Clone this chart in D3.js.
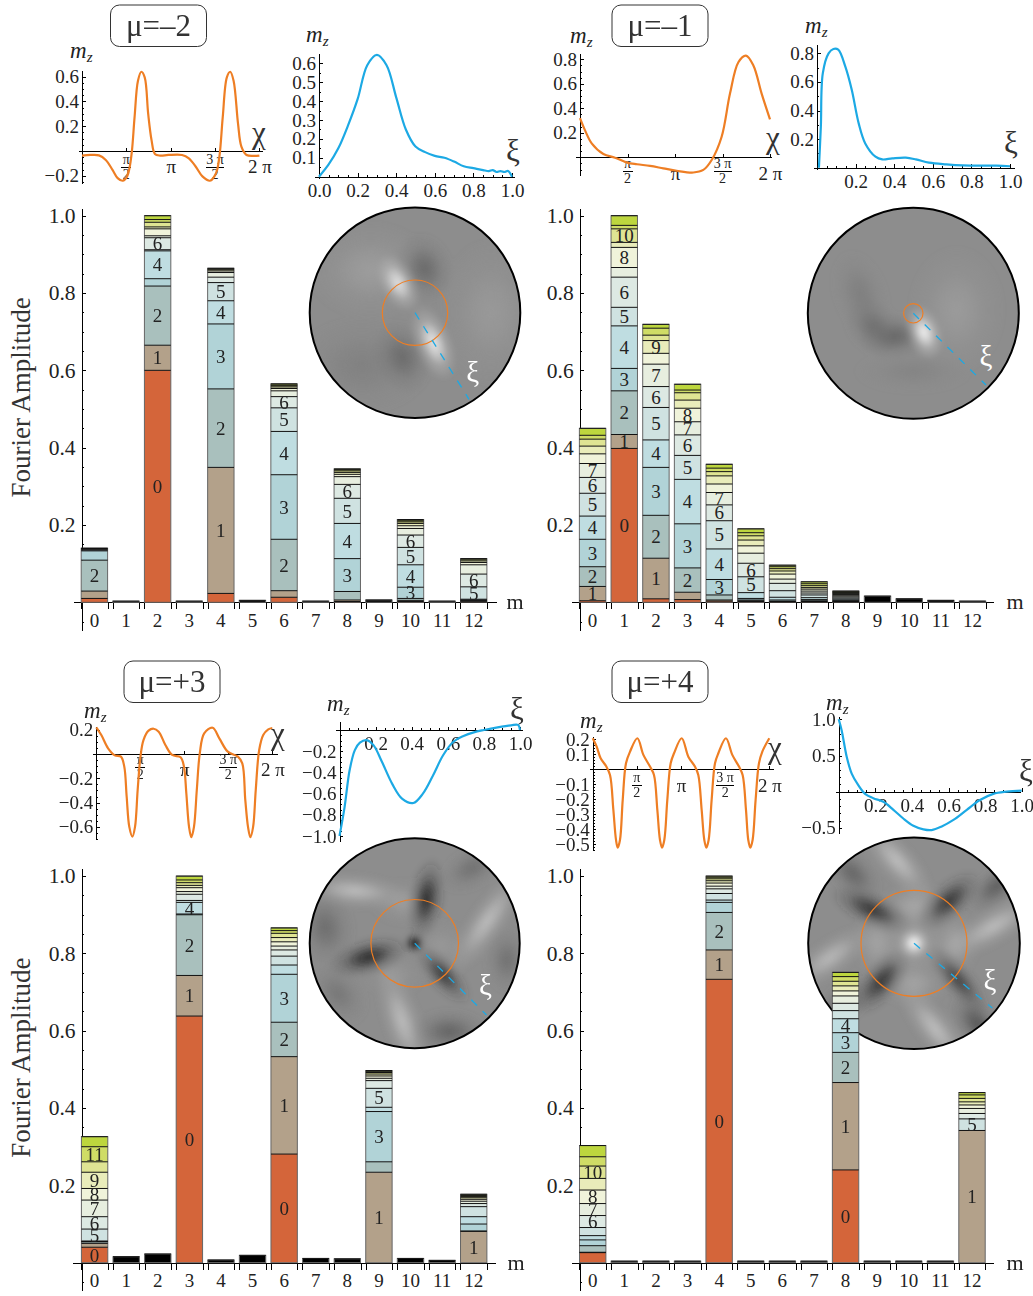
<!DOCTYPE html>
<html>
<head>
<meta charset="utf-8">
<title>Fourier amplitudes</title>
<script src="https://cdn.jsdelivr.net/npm/d3@7"></script>
<style>
    html, body { margin: 0; background: #fff; }
    svg { display: block; font-family: "Liberation Serif", serif; }
    text { fill: #222; }
    .axis path, .axis line { stroke: #000; stroke-width: 1; shape-rendering: crispEdges; }
    .axis text { font-family: "Liberation Serif", serif; fill: #222; }
</style>
</head>
<body>
<svg id="chart" width="1033" height="1296"></svg>
<script>
// harmonic index on the bar axis
const harmonics = d3.range(0, 13);

// radial colour for segments 0..12
const segmentColors = ['#D4653A', '#B3A18A', '#A9C0BD', '#B1D3D7', '#BFDDE1', '#CFE2E1', '#DDE9E3',
    '#E7EEDF', '#F0F3DA', '#E9ECBA', '#DFE493', '#CFDC66', '#BDD63E'];

// stacked amplitudes, one list per m, segment index = radial number; one entry = unresolved black bar
const stacksMinus2 = [
    [.010, .019, .080, .024, .002, .002, .002, .001],
    [.003],
    [.600, .065, .153, .019, .072, .003, .031, .005, .018, .005, .012, .007, .010],
    [.003],
    [.023, .326, .203, .168, .060, .047, .014, .012, .004, .003, .002, .002],
    [.005],
    [.013, .017, .133, .167, .112, .061, .029, .015, .006, .004, .003, .002, .003],
    [.003],
    [.002, .004, .022, .085, .091, .065, .036, .020, .006, .005, .004, .003, .002],
    [.006],
    [.002, .003, .005, .029, .058, .045, .032, .017, .007, .006, .004, .003, .003],
    [.003],
    [.001, .002, .002, .001, .002, .032, .033, .024, .006, .004, .003, .003]
];
const labelsMinus2 = [[2], [], [0, 1, 2, 4, 6], [], [1, 2, 3, 4, 5], [], [2, 3, 4, 5, 6], [], [3, 4, 5, 6], [], [3, 4, 5, 6], [], [5, 6]];

const stacksMinus1 = [
    [.004, .037, .051, .071, .060, .059, .041, .036, .025, .020, .018, .010, .018],
    [.398, .036, .113, .058, .110, .048, .078, .025, .052, .013, .035, .009, .025],
    [.009, .105, .111, .124, .071, .084, .054, .058, .028, .033, .014, .018, .010],
    [.007, .019, .063, .114, .115, .062, .053, .034, .035, .021, .019, .007, .015],
    [.003, .003, .013, .040, .079, .073, .041, .032, .022, .021, .011, .009, .010],
    [.002, .002, .002, .004, .015, .041, .035, .026, .019, .015, .011, .008, .010],
    [.001, .001, .001, .003, .007, .017, .019, .011, .013, .008, .006, .005, .004],
    [.001, .001, .002, .003, .005, .007, .005, .005, .005, .004, .005, .005, .005],
    [.001, .001, .001, .002, .003, .003, .003, .003, .003, .003, .002, .002, .002],
    [.016],
    [.009],
    [.005],
    [.003]
];
const labelsMinus1 = [[1, 2, 3, 4, 5, 6, 7], [0, 1, 2, 3, 4, 5, 6, 8, 10], [1, 2, 3, 4, 5, 6, 7, 9], [2, 3, 4, 5, 6, 7, 8], [3, 4, 5, 6, 7], [5, 6], [], [], [], [], [], [], []];

const stacksPlus3 = [
    [.040, .010, .004, .001, .001, .031, .032, .043, .030, .042, .027, .039, .026],
    [.0155],
    [.0225],
    [.638, .105, .157, .002, .030, .005, .016, .007, .010, .006, .007, .007, .010],
    [.007],
    [.019],
    [.281, .252, .089, .124, .024, .023, .016, .010, .011, .011, .011, .007, .007],
    [.011],
    [.010],
    [0, .234, .027, .130, .011, .049, .020, .006, .006, .005, .004, .003, .002],
    [.011],
    [.006],
    [0, .081, .001, .018, .019, .026, .008, .006, .005, .004, .003, .003, .003]
];
const labelsPlus3 = [[0, 5, 6, 7, 8, 9, 11], [], [], [0, 1, 2, 4], [], [], [0, 1, 2, 3], [], [], [1, 3, 5], [], [], [1]];

const stacksPlus4 = [
    [.026, .001, .017, .015, .011, .021, .031, .031, .035, .030, .032, .024, .029],
    [.004],
    [.004],
    [.004],
    [.733, .076, .097, .026, .006, .017, .012, .007, .008, .006, .005, .004, .003],
    [.004],
    [.004],
    [.004],
    [.240, .226, .078, .051, .036, .021, .019, .019, .013, .013, .012, .012, .011],
    [.004],
    [.004],
    [.004],
    [0, .342, 0, 0, 0, .030, .014, .013, .009, .008, .009, .009, .006]
];
const labelsPlus4 = [[6, 7, 8, 10], [], [], [], [0, 1, 2], [], [], [], [0, 1, 2, 3, 4], [], [], [], [1, 5]];

// angular profiles: chi in units of pi, m_z
const chiMinus2 = [0, .096, .191, .268, .344, .402, .459, .509, .535, .562, .593, .631, .669, .707, .746, .784, .822, .88, .975, 1.128, 1.205, 1.281, 1.358, 1.442, 1.511, 1.549, 1.587, 1.633, 1.671, 1.709, 1.759, 1.797, 1.855, 1.931, 2];
const mzChiMinus2 = [-.037, -.032, -.035, -.072, -.152, -.219, -.24, -.205, -.139, -.005, .275, .568, .64, .595, .301, .088, -.024, -.037, -.032, -.032, -.059, -.125, -.205, -.24, -.179, -.045, .275, .595, .64, .568, .221, .035, -.032, -.04, -.037];
const chiMinus1 = [0, .053, .123, .246, .368, .495, .6, .737, .877, 1.018, 1.193, 1.298, 1.386, 1.491, 1.579, 1.667, 1.747, 1.825, 1.912, 2];
const mzChiMinus1 = [.32, .22, .114, .027, -.003, -.043, -.057, -.07, -.09, -.11, -.124, -.103, -.022, .168, .52, .776, .83, .75, .52, .31];
const chiPlus3 = [0, .057, .134, .21, .28, .318, .345, .375, .41, .44, .47, .502, .536, .594, .651, .709, .785, .862, .958, .996, 1.023, 1.054, 1.08, 1.11, 1.142, 1.176, 1.226, 1.322, 1.398, 1.494, 1.609, 1.659, 1.693, 1.724, 1.751, 1.782, 1.812, 1.851, 1.897, 1.954, 2];
const mzChiPlus3 = [.22, .156, .047, -.011, -.022, -.104, -.35, -.6, -.68, -.6, -.296, -.022, .115, .192, .208, .184, .074, -.008, -.027, -.104, -.323, -.6, -.685, -.6, -.296, .005, .17, .216, .129, .019, -.022, -.077, -.378, -.6, -.685, -.6, -.296, .033, .156, .203, .214];
const chiPlus4 = [0, .045, .09, .151, .196, .234, .264, .283, .309, .34, .377, .423, .506, .574, .649, .694, .732, .762, .785, .811, .845, .883, .921, 1.008, 1.083, 1.158, 1.196, 1.234, 1.264, 1.287, 1.313, 1.347, 1.385, 1.423, 1.509, 1.581, 1.657, 1.698, 1.736, 1.762, 1.785, 1.811, 1.845, 1.883, 1.921, 2];
const mzChiPlus4 = [.207, .151, .073, .022, -.038, -.271, -.471, -.522, -.471, -.204, .04, .118, .207, .096, .018, -.038, -.271, -.471, -.522, -.471, -.204, .04, .107, .207, .084, .018, -.038, -.271, -.471, -.522, -.471, -.204, .04, .107, .207, .096, .018, -.038, -.271, -.471, -.522, -.471, -.204, .04, .118, .207];

// radial profiles: xi, m_z
const xiMinus2 = [0, .05, .1, .15, .2, .25, .3, .35, .4, .45, .5, .55, .6, .65, .7, .75, .8, .85, .88, .9, .92, .94, .96, .98, 1];
const mzXiMinus2 = [0, .065, .15, .27, .41, .59, .645, .59, .42, .25, .16, .13, .11, .10, .08, .055, .045, .035, .03, .035, .025, .03, .025, .03, 0];
const xiMinus1 = [.01, .02, .03, .06, .085, .11, .146, .18, .216, .25, .303, .338, .39, .46, .512, .58, .67, .756, .93, 1];
const mzXiMinus1 = [0, .29, .66, .8, .83, .825, .71, .545, .31, .17, .077, .058, .065, .07, .058, .035, .023, .016, .014, .01];
const xiPlus3 = [0, .028, .056, .085, .113, .15, .188, .235, .292, .348, .409, .461, .518, .574, .631, .687, .744, .8, .876, .951, .989, 1];
const mzXiPlus3 = [-1, -.73, -.38, -.19, -.12, -.095, -.143, -.30, -.508, -.65, -.689, -.603, -.429, -.238, -.111, -.057, -.022, 0, .025, .044, .048, 0];
const xiPlus4 = [0, .016, .044, .071, .107, .144, .189, .244, .299, .353, .408, .463, .508, .563, .627, .7, .772, .845, .918, 1];
const mzXiPlus4 = [1, .85, .48, .25, .09, -.03, -.09, -.14, -.25, -.37, -.47, -.52, -.53, -.48, -.39, -.25, -.115, -.03, 0, .015];

// tick labels
const ampTicks = [.2, .4, .6, .8, 1];
const chiTicks = [.5, 1, 1.5, 2];
const xiTicks = [.2, .4, .6, .8, 1];

// disc maps: x, y (in disc radii), long and short half axis, tilt in degrees, grey level
const spotsMinus2 = [
    [-.42, -.4, .6, .46, 0, 158], [.72, 0, .5, .7, 0, 154], [-.5, .5, .65, .46, 0, 128],
    [.09, -.42, .34, .27, 70, 104], [-.12, .42, .36, .27, 70, 106],
    [-.16, -.28, .3, .17, 62, 232], [.174, .285, .38, .18, 68, 238]
];
const spotsMinus1 = [
    [.41, -.03, .45, .6, 0, 156], [0, .55, .55, .2, 0, 132],
    [-.5, -.18, .42, .25, 72, 126], [-.38, .12, .3, .24, 45, 112], [-.17, .22, .36, .22, -5, 102],
    [.1, .18, .27, .17, 70, 250]
];
const spotsPlus3 = [
    [-.85, -.15, .38, .28, 80, 108], [.33, .84, .38, .22, 0, 98], [-.73, .48, .34, .24, 50, 118],
    [.88, .16, .32, .22, 90, 112], [.55, -.72, .34, .2, -30, 112],
    [-.09, -.39, .34, .22, 0, 158], [.25, .02, .3, .24, 0, 152], [-.2, .3, .3, .22, 0, 152],
    [-.57, -.5, .52, .17, 5, 190], [.69, -.21, .6, .18, -55, 190], [-.12, .74, .56, .19, 72, 190],
    [.11, -.42, .4, .18, 100, 38], [-.44, .13, .4, .18, -15, 38], [.27, .3, .36, .15, 48, 55],
    [0, 0, .11, .11, 0, 15]
];
const spotsPlus4 = [
    [.6, .76, .34, .2, 50, 84], [-.58, -.66, .34, .2, 45, 100], [.78, -.54, .34, .18, -40, 92], [-.67, .57, .32, .2, -40, 100],
    [0, -.35, .32, .24, 0, 168], [-.35, 0, .24, .32, 0, 165], [.38, 0, .24, .32, 0, 165], [0, .38, .32, .24, 0, 165],
    [-.16, -.78, .48, .18, 48, 192], [.75, -.16, .54, .18, -30, 190], [.2, .81, .52, .18, 52, 192], [-.8, .14, .48, .18, -35, 186],
    [-.4, -.32, .42, .17, 25, 48], [.33, -.4, .38, .18, -42, 50], [-.31, .36, .38, .18, -50, 48], [.42, .35, .42, .15, 50, 65],
    [0, 0, .3, .3, 0, 172], [0, 0, .14, .14, 0, 255]
];

const svg = d3.select('#chart');
const defs = svg.append('defs');
const orange = '#EE7E24';
const blue = '#1CA9E4';

const span = (scale, lo, hi) => scale.copy().domain([scale.invert(lo), scale.invert(hi)]).range([lo, hi]);
const fmt = v => v.toFixed(1).replace('-', '\u2212');

defs.append('filter').attr('id', 'soft')
    .attr('x', '-10%').attr('y', '-10%').attr('width', '120%').attr('height', '120%')
    .append('feGaussianBlur').attr('stdDeviation', 2.5);

function drawBars(p) {
    const g = svg.append('g');
    const y = d3.scaleLinear().domain([0, 1]).range([p.y0, p.y0 - 386.6]);
    const x = d3.scaleLinear().domain([0, 12]).range([p.x0, p.x12]);
    const band = d3.scaleBand().domain(harmonics).range([x(-.5), x(12.5)]).paddingInner(.165).paddingOuter(.0825);
    const edgeTicks = harmonics.flatMap(m => [m - .42, m + .42]);

    // horizontal axis with two ticks per bar, labels by band
    g.append('g').attr('class', 'axis')
        .attr('transform', `translate(0,${p.y0})`)
        .call(d3.axisBottom(span(x, p.axisLeft, p.axisRight)).tickValues(edgeTicks).tickSize(7).tickSizeOuter(0).tickFormat(''));
    g.append('g').attr('class', 'axis')
        .attr('transform', `translate(0,${p.y0})`)
        .call(d3.axisBottom(band).tickSize(0).tickPadding(11))
        .call(a => a.select('.domain').remove())
        .call(a => a.selectAll('text').style('font-size', '19px'));

    // vertical axis
    const yFull = span(y, p.y0 + 28, p.y0 - 394);
    g.append('g').attr('class', 'axis')
        .attr('transform', `translate(${p.axisX},0)`)
        .call(d3.axisLeft(yFull).tickValues(d3.range(-.05, 1.01, .05)).tickSize(-2).tickSizeOuter(0).tickFormat(''));
    g.append('g').attr('class', 'axis')
        .attr('transform', `translate(${p.axisX},0)`)
        .call(d3.axisLeft(yFull).tickValues(ampTicks).tickSize(-4).tickSizeOuter(0).tickPadding(6).tickFormat(fmt))
        .call(a => a.select('.domain').remove())
        .call(a => a.selectAll('text').style('font-size', '21.5px'));

    // stacks
    p.stacks.forEach((stack, m) => {
        const bar = g.append('g');
        const tops = d3.cumsum(stack);
        const segs = stack.map((v, i) => ({ v, i, top: tops[i], bottom: tops[i] - v })).filter(d => d.v > 0);
        const solid = stack.length === 1;

        bar.selectAll('rect.seg').data(segs).enter().append('rect')
            .attr('class', 'seg')
            .attr('x', band(m))
            .attr('width', band.bandwidth())
            .attr('y', d => y(d.top))
            .attr('height', d => y(d.bottom) - y(d.top))
            .attr('fill', d => solid ? '#000' : segmentColors[d.i]);
        bar.append('rect')
            .attr('x', band(m))
            .attr('width', band.bandwidth())
            .attr('y', y(tops[tops.length - 1]))
            .attr('height', y(0) - y(tops[tops.length - 1]))
            .attr('fill', 'none')
            .attr('stroke', '#666');
        bar.selectAll('line').data(segs).enter().append('line')
            .attr('x1', band(m))
            .attr('x2', band(m) + band.bandwidth())
            .attr('y1', d => y(d.top))
            .attr('y2', d => y(d.top))
            .attr('stroke', '#111');
        bar.selectAll('text').data(segs.filter(d => p.labels[m].includes(d.i))).enter().append('text')
            .attr('x', band(m) + band.bandwidth() / 2)
            .attr('y', d => y((d.top + d.bottom) / 2))
            .attr('dy', '.35em')
            .attr('text-anchor', 'middle')
            .style('font-size', '19px')
            .text(d => d.i);
    });

    g.append('text')
        .attr('x', p.mX)
        .attr('y', p.y0 + 7)
        .attr('text-anchor', 'middle')
        .style('font-size', '22px')
        .text('m');

    if (p.title) {
        g.append('text')
            .attr('transform', `translate(30,${p.y0 - 205})rotate(-90)`)
            .attr('text-anchor', 'middle')
            .style('font-size', '27px')
            .style('fill', '#333')
            .text('Fourier Amplitude');
    }
}

function mzLabel(g, x, y) {
    const t = g.append('text')
        .attr('x', x)
        .attr('y', y)
        .style('font-size', '23px')
        .style('font-style', 'italic');
    t.append('tspan').text('m');
    t.append('tspan').attr('dy', 4).style('font-size', '15px').text('z');
}

function drawInset(c) {
    const g = svg.append('g');
    const x = d3.scaleLinear().domain(c.xDomain).range(c.xRange);
    const y = d3.scaleLinear().domain(c.yDomain).range(c.yRange);
    const line = d3.line().x(d => x(d[0])).y(d => y(d[1])).curve(d3.curveCatmullRom.alpha(.5));

    // y axis with minor and major ticks
    const yFull = span(y, c.yBottom, c.yTop);
    g.append('g').attr('class', 'axis')
        .attr('transform', `translate(${x(0)},0)`)
        .call(d3.axisLeft(yFull).tickValues(c.yMinor).tickSize(-2).tickSizeOuter(0).tickFormat(''));
    g.append('g').attr('class', 'axis')
        .attr('transform', `translate(${x(0)},0)`)
        .call(d3.axisLeft(yFull).tickValues(c.yTicks).tickSize(-3.5).tickSizeOuter(0).tickPadding(3).tickFormat(fmt))
        .call(a => a.select('.domain').remove())
        .call(a => a.selectAll('text').style('font-size', '19px'));

    // x axis on the zero line
    const xFull = span(x, c.xLeft, c.xRight);
    const xAxis = g.append('g').attr('class', 'axis').attr('transform', `translate(0,${y(0)})`);
    if (c.kind === 'chi') {
        xAxis.call(d3.axisBottom(xFull).tickValues(chiTicks).tickSize(-3.5).tickSizeOuter(0).tickPadding(9)
            .tickFormat(v => v === 1 ? '\u03C0' : v === 2 ? '2 \u03C0' : ''));
        xAxis.selectAll('text').style('font-size', '19px');
        const frac = xAxis.selectAll('.frac').data([[.5, '\u03C0'], [1.5, '3 \u03C0']]).enter().append('g')
            .attr('class', 'frac')
            .attr('transform', d => `translate(${x(d[0])},${c.fracY - y(0)})`);
        frac.append('text').attr('text-anchor', 'middle').attr('y', -3).style('font-size', '14px').text(d => d[1]);
        frac.append('line').attr('x1', d => d[0] > 1 ? -9 : -5).attr('x2', d => d[0] > 1 ? 9 : 5);
        frac.append('text').attr('text-anchor', 'middle').attr('y', 12).style('font-size', '14px').text('2');
    } else {
        xAxis.call(d3.axisBottom(xFull).tickValues(d3.range(.05, 1.01, .05)).tickSize(-2).tickSizeOuter(0).tickFormat(''));
        const major = g.append('g').attr('class', 'axis').attr('transform', `translate(0,${y(0)})`)
            .call(d3.axisBottom(xFull).tickValues(c.xTicks).tickSize(-3.5).tickSizeOuter(0).tickPadding(7).tickFormat(fmt));
        major.select('.domain').remove();
        major.selectAll('text').style('font-size', '19px');
    }

    g.append('path')
        .datum(d3.zip(c.xs, c.ys))
        .attr('fill', 'none')
        .attr('stroke', c.kind === 'chi' ? orange : blue)
        .attr('stroke-width', 2.2)
        .attr('d', line);

    mzLabel(g, c.mzX, c.mzY);
    g.append('text')
        .attr('x', c.symX)
        .attr('y', c.symY)
        .attr('text-anchor', 'middle')
        .style('font-size', c.kind === 'chi' ? '31px' : '31px')
        .style('fill', '#333')
        .text(c.kind === 'chi' ? '\u03C7' : '\u03BE');
}

function drawDisc(d) {
    const g = svg.append('g');
    const r = d3.scaleLinear().domain([0, 1]).range([0, d.r]);
    const clipId = `clip-${d.id}`;

    defs.append('clipPath').attr('id', clipId)
        .append('circle').attr('cx', d.cx).attr('cy', d.cy).attr('r', d.r);

    const field = g.append('g').attr('clip-path', `url(#${clipId})`);
    field.append('circle').attr('cx', d.cx).attr('cy', d.cy).attr('r', d.r).attr('fill', 'rgb(141,141,141)');
    const spots = field.append('g').attr('filter', 'url(#soft)');

    d.spots.forEach((s, i) => {
        const grey = `rgb(${s[5]},${s[5]},${s[5]})`;
        const grad = defs.append('radialGradient').attr('id', `${d.id}-${i}`);
        grad.append('stop').attr('offset', '0%').attr('stop-color', grey).attr('stop-opacity', .92);
        grad.append('stop').attr('offset', '30%').attr('stop-color', grey).attr('stop-opacity', .62);
        grad.append('stop').attr('offset', '60%').attr('stop-color', grey).attr('stop-opacity', .22);
        grad.append('stop').attr('offset', '100%').attr('stop-color', grey).attr('stop-opacity', 0);
        spots.append('ellipse')
            .attr('transform', `translate(${d.cx + r(s[0])},${d.cy + r(s[1])})rotate(${s[4]})`)
            .attr('rx', r(s[2]))
            .attr('ry', r(s[3]))
            .attr('fill', `url(#${d.id}-${i})`);
    });

    g.append('circle').attr('cx', d.cx).attr('cy', d.cy).attr('r', d.r)
        .attr('fill', 'none').attr('stroke', '#000').attr('stroke-width', 2);
    g.append('circle').attr('cx', d.cx).attr('cy', d.cy).attr('r', d.ring)
        .attr('fill', 'none').attr('stroke', orange).attr('stroke-width', 1.2);
    g.append('line')
        .attr('x1', d.cx).attr('y1', d.cy).attr('x2', d.endX).attr('y2', d.endY)
        .attr('stroke', blue).attr('stroke-width', 1.3).attr('stroke-dasharray', '8 8');
    g.append('text')
        .attr('x', d.xiX).attr('y', d.xiY)
        .attr('text-anchor', 'middle')
        .style('font-size', '29px')
        .style('fill', '#fff')
        .text('\u03BE');
}

function drawBadge(b) {
    const g = svg.append('g');
    g.append('rect')
        .attr('x', b.x).attr('y', b.y).attr('width', 96).attr('height', 41.5).attr('rx', 9)
        .attr('fill', '#fff').attr('stroke', '#333').attr('stroke-width', 1);
    g.append('text')
        .attr('x', b.x + 48).attr('y', b.y + 31)
        .attr('text-anchor', 'middle')
        .style('font-size', '31px')
        .style('fill', '#333')
        .text(b.text);
}

// discs go first, bars may run over them
drawDisc({ id: 'a', cx: 415, cy: 312.7, r: 105.3, ring: 32.7, endX: 469, endY: 399.3, xiX: 472.7, xiY: 382, spots: spotsMinus2 });
drawDisc({ id: 'b', cx: 913.3, cy: 313.3, r: 105.5, ring: 9.7, endX: 986, endY: 385, xiX: 986, xiY: 366, spots: spotsMinus1 });
drawDisc({ id: 'c', cx: 414.7, cy: 943.3, r: 105, ring: 43.8, endX: 486.5, endY: 1015, xiX: 485.5, xiY: 995, spots: spotsPlus3 });
drawDisc({ id: 'd', cx: 914, cy: 943.3, r: 105.8, ring: 53, endX: 992.3, endY: 1008, xiX: 990, xiY: 990, spots: spotsPlus4 });

drawBars({ stacks: stacksMinus2, labels: labelsMinus2, y0: 602.3, x0: 94.4, x12: 473.7, axisX: 81.5, axisLeft: 73, axisRight: 496, mX: 515, title: true });
drawBars({ stacks: stacksMinus1, labels: labelsMinus1, y0: 602.3, x0: 592.6, x12: 972.5, axisX: 579.7, axisLeft: 571, axisRight: 993, mX: 1015, title: false });
drawBars({ stacks: stacksPlus3, labels: labelsPlus3, y0: 1262.7, x0: 94.6, x12: 473.7, axisX: 81.5, axisLeft: 72.6, axisRight: 495, mX: 516, title: true });
drawBars({ stacks: stacksPlus4, labels: labelsPlus4, y0: 1262.7, x0: 592.7, x12: 972, axisX: 579.7, axisLeft: 571, axisRight: 993, mX: 1015, title: false });

drawInset({ kind: 'chi', xs: chiMinus2, ys: mzChiMinus2, xDomain: [0, 2], xRange: [82, 259.4], yDomain: [0, .6], yRange: [151, 76.7], yBottom: 183, yTop: 70, yTicks: [-.2, .2, .4, .6], yMinor: d3.range(-.25, .61, .05), xLeft: 78, xRight: 262, fracY: 167, mzX: 70, mzY: 58, symX: 259, symY: 143 });
drawInset({ kind: 'xi', xs: xiMinus2, ys: mzXiMinus2, xDomain: [0, 1], xRange: [319, 512], yDomain: [0, .6], yRange: [176.7, 63.3], yBottom: 178, yTop: 53, yTicks: [.1, .2, .3, .4, .5, .6], yMinor: d3.range(.05, .61, .05), xTicks: [0].concat(xiTicks), xLeft: 314, xRight: 514, mzX: 306, mzY: 42, symX: 513, symY: 161 });
drawInset({ kind: 'chi', xs: chiMinus1, ys: mzChiMinus1, xDomain: [0, 2], xRange: [580, 770], yDomain: [0, .8], yRange: [157.3, 59.3], yBottom: 175, yTop: 53, yTicks: [.2, .4, .6, .8], yMinor: d3.range(-.1, .81, .05), xLeft: 575.7, xRight: 771.7, fracY: 171, mzX: 570, mzY: 43, symX: 773, symY: 148 });
drawInset({ kind: 'xi', xs: xiMinus1, ys: mzXiMinus1, xDomain: [0, 1], xRange: [817, 1010], yDomain: [0, .8], yRange: [167.7, 53.3], yBottom: 169, yTop: 44, yTicks: [.2, .4, .6, .8], yMinor: d3.range(.1, .81, .1), xTicks: xiTicks, xLeft: 813, xRight: 1014, mzX: 805, mzY: 33, symX: 1011, symY: 153 });
drawInset({ kind: 'chi', xs: chiPlus3, ys: mzChiPlus3, xDomain: [0, 2], xRange: [96.3, 272.3], yDomain: [0, .2], yRange: [754, 729.7], yBottom: 839, yTop: 726, yTicks: [-.6, -.4, -.2, .2], yMinor: d3.range(-.7, .21, .05), xLeft: 92, xRight: 277, fracY: 767, mzX: 84, mzY: 718, symX: 278, symY: 744 });
drawInset({ kind: 'xi', xs: xiPlus3, ys: mzXiPlus3, xDomain: [0, 1], xRange: [339.5, 520], yDomain: [0, -1], yRange: [730, 836], yBottom: 841, yTop: 721.7, yTicks: [-1, -.8, -.6, -.4, -.2], yMinor: d3.range(-1, .01, .05), xTicks: xiTicks, xLeft: 335.5, xRight: 522, mzX: 327, mzY: 711, symX: 517, symY: 719 });
drawInset({ kind: 'chi', xs: chiPlus4, ys: mzChiPlus4, xDomain: [0, 2], xRange: [592.7, 769.3], yDomain: [0, .2], yRange: [769.3, 739.3], yBottom: 850, yTop: 736, yTicks: [-.5, -.4, -.3, -.2, -.1, .1, .2], yMinor: d3.range(-.54, .21, .02), xLeft: 589, xRight: 773, fracY: 785, mzX: 580, mzY: 728, symX: 775, symY: 758 });
drawInset({ kind: 'xi', xs: xiPlus4, ys: mzXiPlus4, xDomain: [0, 1], xRange: [838.7, 1021.7], yDomain: [0, 1], yRange: [791.7, 719.3], yBottom: 833, yTop: 716.7, yTicks: [-.5, .5, 1], yMinor: d3.range(-.5, 1.01, .1), xTicks: xiTicks, xLeft: 835, xRight: 1020, mzX: 826, mzY: 710, symX: 1026, symY: 781 });

drawBadge({ x: 110.5, y: 5, text: '\u03BC=\u20132' });
drawBadge({ x: 612, y: 5, text: '\u03BC=\u20131' });
drawBadge({ x: 124, y: 661, text: '\u03BC=+3' });
drawBadge({ x: 612, y: 661, text: '\u03BC=+4' });
</script>
</body>
</html>
